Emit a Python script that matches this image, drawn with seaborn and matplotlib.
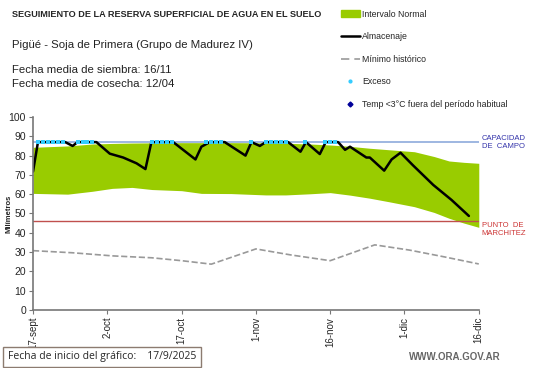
import numpy as np
import pandas as pd
import matplotlib
matplotlib.use("Agg")
import matplotlib.pyplot as plt
import seaborn as sns
from matplotlib.lines import Line2D
from matplotlib.patches import Patch

# days since 17-sept-2025
band_days = [0, 7, 12, 16, 20, 24, 30, 34, 40, 47, 51, 56, 60, 64, 68, 72, 77, 81, 84, 87, 90]
band_upper = [84.3, 85, 86, 86.3, 86.5, 86.6, 86.7, 86.7, 86.7, 86.6, 86.4, 86, 85.5, 84.8, 83.8, 83, 82, 79.5, 77.2, 76.5, 76]
band_lower = [60.4, 60, 61.5, 63, 63.5, 62.4, 61.8, 60.4, 60.3, 59.6, 59.6, 60.2, 60.8, 59.5, 57.9, 56, 53.5, 50.5, 47.5, 45, 42.8]

alm_days = [0, 1, 6.5, 8, 9, 12.8, 15.5, 18.2, 20.9, 22.7, 23.9, 28.3, 32.8, 34, 35.7, 38.7, 42.9, 44.1,
            45.8, 47, 51.5, 54, 55.1, 57.9, 59.1, 61.6, 63, 64, 67.3, 68, 70.9, 72.4, 74.2, 76.7, 80.8, 84.5, 88]
alm_vals = [71.7, 87, 87, 85, 87, 87, 81, 79, 76, 73, 87, 87, 78, 84.6, 87, 87, 80, 87,
            85, 87, 87, 82, 87, 80.8, 87, 87, 83, 84.6, 79, 79, 72.2, 78, 81.5, 75, 64.8, 57, 48.7]

min_days = [0, 8, 16, 24, 30, 36, 45, 52, 60, 69, 76, 83, 90]
min_vals = [30.7, 29.6, 28, 27, 25.5, 23.7, 31.6, 28.5, 25.5, 33.7, 31, 27.5, 23.8]

exceso_days = [1, 2, 3, 4, 5, 6, 9, 10, 11, 12, 24, 25, 26, 27, 28, 35, 36, 37, 38,
               44, 47, 48, 49, 50, 51, 55, 59, 60, 61]

cap_campo = 87
marchitez = 46

tick_days = [0, 15, 30, 45, 60, 75, 90]
tick_labels = ["17-sept", "2-oct", "17-oct", "1-nov", "16-nov", "1-dic", "16-dic"]

sns.set_style("white")
plt.rcParams['font.family'] = ['Liberation Sans', 'DejaVu Sans']

fig = plt.figure(figsize=(5.41, 3.68), dpi=100)
ax = fig.add_axes([0.061, 0.158, 0.824, 0.524])

ax.fill_between(band_days, band_lower, band_upper, color="#99cc00", linewidth=0)
ax.plot([0, 90], [cap_campo, cap_campo], color="#8eaadb", lw=1.2)
ax.plot([0, 90], [marchitez, marchitez], color="#c0504d", lw=1)
sns.lineplot(x=min_days, y=min_vals, ax=ax, color="#999999", lw=1.2, dashes=(6, 4), linestyle="--")
sns.lineplot(x=alm_days, y=alm_vals, ax=ax, color="black", lw=1.8)
sns.scatterplot(x=exceso_days, y=[cap_campo] * len(exceso_days), ax=ax, color="#33ccff",
                marker="s", s=7, linewidth=0, zorder=5)

ax.set_xlim(0, 90)
ax.set_ylim(0, 100)
ax.set_yticks(range(0, 101, 10))
ax.set_xticks(tick_days)
ax.set_xticklabels(tick_labels, rotation=90, fontsize=7)
ax.tick_params(axis='y', labelsize=7.5, length=3, direction='out', left=True, color="#777777", pad=2)
ax.tick_params(axis='x', length=3, direction='out', bottom=True, color="#777777", pad=2)
for s in ["top", "right"]:
    ax.spines[s].set_visible(False)
for s in ["left", "bottom"]:
    ax.spines[s].set_color("#777777")
    ax.spines[s].set_linewidth(1.2)
ax.set_ylabel("Milímetros", fontsize=5.5, fontweight="bold")
ax.yaxis.set_label_coords(-0.047, 0.5)

ax.text(90.6, cap_campo, "CAPACIDAD\nDE  CAMPO", color="#3333aa", fontsize=5.5, va="center", ha="left")
ax.text(90.6, marchitez - 0.5, "PUNTO  DE\nMARCHITEZ", color="#cc3333", fontsize=5.5, va="top", ha="left")

fig.text(0.022, 0.96, "SEGUIMIENTO DE LA RESERVA SUPERFICIAL DE AGUA EN EL SUELO",
         fontsize=6.6, fontweight="bold", va="center")
fig.text(0.022, 0.878, "Pigüé - Soja de Primera (Grupo de Madurez IV)", fontsize=8.2, va="center", color="#222222")
fig.text(0.022, 0.81, "Fecha media de siembra: 16/11", fontsize=8.2, va="center", color="#222222")
fig.text(0.022, 0.772, "Fecha media de cosecha: 12/04", fontsize=8.2, va="center", color="#222222")

handles = [
    Patch(color="#99cc00", label="Intervalo Normal"),
    Line2D([], [], color="black", lw=1.8, label="Almacenaje"),
    Line2D([], [], color="#999999", lw=1.2, dashes=(5, 3), label="Mínimo histórico"),
    Line2D([], [], color="#33ccff", marker="o", ms=2, lw=0, label="Exceso"),
    Line2D([], [], color="#000099", marker="D", ms=2.5, lw=0, label="Temp <3°C fuera del período habitual"),
]
fig.legend(handles=handles, loc="upper left", bbox_to_anchor=(0.615, 0.995), frameon=False,
           fontsize=6.3, labelspacing=1.55, handlelength=2.2, handletextpad=0.3, handleheight=0.8)

fig.text(0.015, 0.03, "Fecha de inicio del gráfico:    17/9/2025", fontsize=7.5, va="center",
         family=['Open Sans', 'DejaVu Sans'],
         bbox=dict(boxstyle="square,pad=0.45", fc="white", ec="#8c7b70", lw=1))
fig.text(0.925, 0.03, "WWW.ORA.GOV.AR", fontsize=7, fontweight="bold", color="#666666", ha="right", va="center")

fig.savefig("out.png", dpi=100)
